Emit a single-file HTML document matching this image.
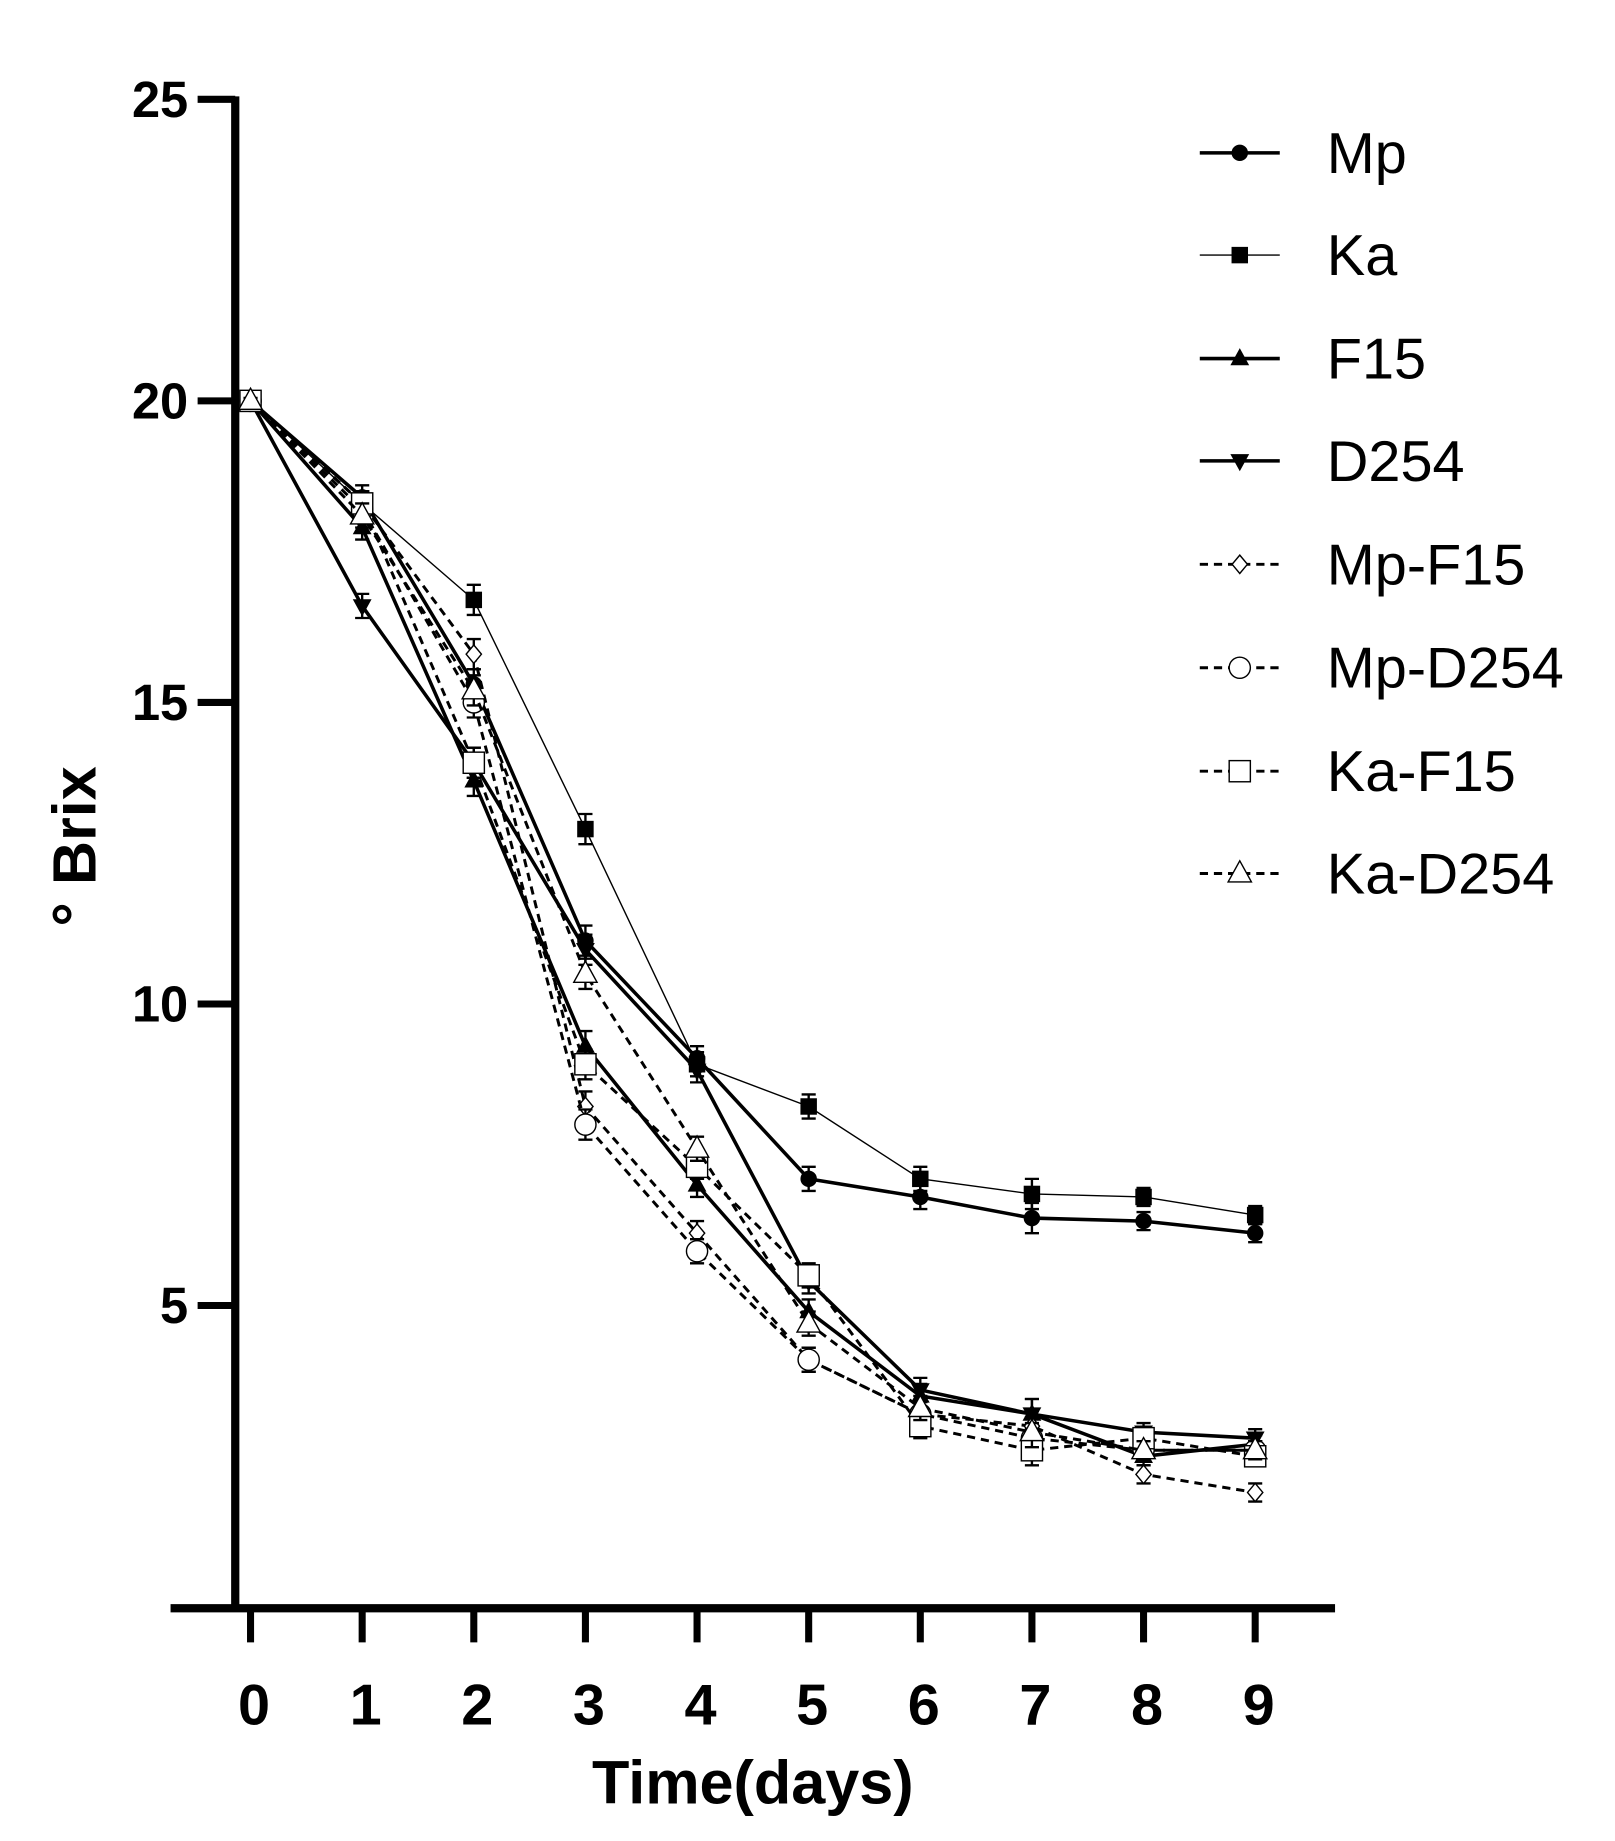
<!DOCTYPE html>
<html><head><meta charset="utf-8"><style>
html,body{margin:0;padding:0;background:#fff;}
svg{display:block;font-family:"Liberation Sans",Arial,sans-serif;}
</style></head><body>
<svg id="chart" width="1615" height="1841" viewBox="0 0 1373 1566" preserveAspectRatio="none" xmlns="http://www.w3.org/2000/svg">
<g id="axes"></g>
<g id="series"></g>
<g id="legend"></g>
</svg>
<script>
const days = [0,1,2,3,4,5,6,7,8,9];
const yTicks = [5,10,15,20,25];
const seriesNames = ["Mp","Ka","F15","D254","Mp-F15","Mp-D254","Ka-F15","Ka-D254"];
const mpVals = [20,18.4,15.3,11.05,9.1,7.1,6.8,6.45,6.4,6.2];
const kaVals = [20,18.3,16.7,12.9,9.0,8.3,7.1,6.85,6.8,6.5];
const f15Vals = [20,17.9,13.7,9.3,7.0,4.9,3.5,3.2,2.5,2.7];
const d254Vals = [20,16.6,14.0,10.9,8.9,5.4,3.6,3.2,2.9,2.8];
const mpF15Vals = [20,18.3,15.8,8.3,6.2,4.1,3.2,3.0,2.2,1.9];
const mpD254Vals = [20,18.2,15.0,8.0,5.9,4.1,3.2,2.8,2.6,2.6];
const kaF15Vals = [20,18.3,14.0,9.0,7.3,5.5,3.0,2.6,2.8,2.5];
const kaD254Vals = [20,18.1,15.2,10.5,7.6,4.7,3.3,2.9,2.6,2.6];
const errVals = [0.05,0.2,0.25,0.25,0.2,0.2,0.2,0.25,0.15,0.15];

const NS="http://www.w3.org/2000/svg";
const X0=213, XS=94.9, Y0=1367, YS=51.3;
const xs=d=>X0+d*XS, ys=v=>Y0-v*YS;
function mk(tag,attrs,parent){const e=document.createElementNS(NS,tag);for(const k in attrs)e.setAttribute(k,attrs[k]);parent.appendChild(e);return e;}
const axes=document.getElementById('axes');
let e;
e=mk('line',{x1:200,y1:82,x2:200,y2:1371,stroke:'#000','stroke-width':7},axes);


e=mk('line',{x1:145,y1:1368,x2:1135,y2:1368,stroke:'#000','stroke-width':7},axes);


yTicks.forEach(t=>{
  e=mk('line',{x1:168,y1:ys(t),x2:200,y2:ys(t),stroke:'#000','stroke-width':6},axes);
  
  
  e=mk('text',{x:160,y:ys(t)+15,'text-anchor':'end','font-size':43,'font-weight':'bold'},axes);
  e.textContent=t;
  
  
});
days.forEach(d=>{
  e=mk('line',{x1:xs(d),y1:1368,x2:xs(d),y2:1397,stroke:'#000','stroke-width':6},axes);
  
  
  e=mk('text',{x:xs(d)+3,y:1467,'text-anchor':'middle','font-size':49,'font-weight':'bold'},axes);
  e.textContent=d;
  
  
});
e=mk('text',{x:640,y:1534,'text-anchor':'middle','font-size':52,'font-weight':'bold'},axes);
e.textContent='Time(days)';


e=mk('text',{x:0,y:0,'text-anchor':'middle','font-size':52,'font-weight':'bold',transform:'translate(81,720) rotate(-90)'},axes);
e.textContent='° Brix';



const allVals=[mpVals,kaVals,f15Vals,d254Vals,mpF15Vals,mpD254Vals,kaF15Vals,kaD254Vals];
const styles=[
 {w:3,dash:null,m:'circle',fill:'#000'},
 {w:1.2,dash:null,m:'square',fill:'#000'},
 {w:3,dash:null,m:'tri',fill:'#000'},
 {w:3,dash:null,m:'dtri',fill:'#000'},
 {w:2.5,dash:'7,5',m:'diamond',fill:'#fff'},
 {w:2.5,dash:'7,5',m:'circle',fill:'#fff',big:true},
 {w:2.5,dash:'7,5',m:'square',fill:'#fff',big:true},
 {w:2.5,dash:'7,5',m:'tri',fill:'#fff',big:true}];
function marker(type,cx,cy,fill,big,parent){
  const s=big?9:6.5; const sw=fill==='#fff'?1.2:1;
  let el;
  if(type==='circle') el=mk('circle',{cx,cy,r:s,fill,stroke:'#000','stroke-width':sw},parent);
  else if(type==='square') el=mk('rect',{x:cx-s,y:cy-s,width:2*s,height:2*s,fill,stroke:'#000','stroke-width':sw},parent);
  else if(type==='tri') el=mk('polygon',{points:`${cx},${cy-s*1.2} ${cx-s*1.1},${cy+s*0.8} ${cx+s*1.1},${cy+s*0.8}`,fill,stroke:'#000','stroke-width':sw},parent);
  else if(type==='dtri') el=mk('polygon',{points:`${cx},${cy+s*1.2} ${cx-s*1.1},${cy-s*0.8} ${cx+s*1.1},${cy-s*0.8}`,fill,stroke:'#000','stroke-width':sw},parent);
  else el=mk('polygon',{points:`${cx},${cy-s*1.2} ${cx+s},${cy} ${cx},${cy+s*1.2} ${cx-s},${cy}`,fill,stroke:'#000','stroke-width':sw},parent);
  return el;
}
const sg=document.getElementById('series');
allVals.forEach((vals,i)=>{
  const st=styles[i];
  const g=mk('g',{},sg);
  
  
  const pts=vals.map((v,j)=>xs(days[j])+','+ys(v)).join(' ');
  const a={points:pts,fill:'none',stroke:'#000','stroke-width':st.w};
  if(st.dash)a['stroke-dasharray']=st.dash;
  e=mk('polyline',a,g);
  
  
  vals.forEach((v,j)=>{
    const x=xs(days[j]), er=errVals[j]*YS;
    e=mk('path',{d:`M${x},${ys(v)-er}V${ys(v)+er}M${x-6},${ys(v)-er}H${x+6}M${x-6},${ys(v)+er}H${x+6}`,stroke:'#000','stroke-width':2,fill:'none'},g);
    
    
    e=marker(st.m,x,ys(v),st.fill,st.big,g);
    
    
  });
});
const lg=document.getElementById('legend');
const legY=[130,217,305,392,480,568,656,743];
seriesNames.forEach((n,i)=>{
  const st=styles[i]; const y=legY[i];
  const g=mk('g',{},lg);
  
  
  const a={x1:1020,y1:y,x2:1088,y2:y,stroke:'#000','stroke-width':st.w};
  if(st.dash)a['stroke-dasharray']=st.dash;
  mk('line',a,g);
  marker(st.m,1054,y,st.fill,st.big,g);
  const t=mk('text',{x:1128,y:y+17,'font-size':49},g);
  t.textContent=n;
});
</script>
</body></html>
